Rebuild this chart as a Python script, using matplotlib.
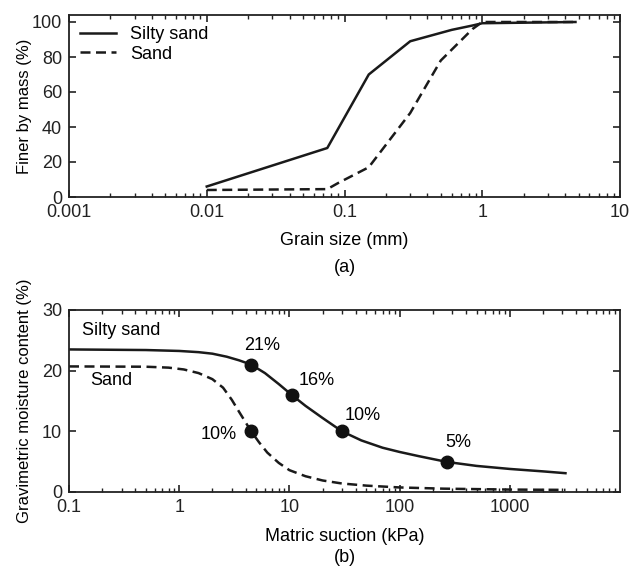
import matplotlib
matplotlib.use("Agg")
import matplotlib.pyplot as plt
from matplotlib.ticker import LogLocator, NullFormatter

plt.rcParams['font.family'] = ['Liberation Sans', 'DejaVu Sans']
FS = 13
FSY = 12

# ---- (a) grain size distribution ----
grain_silty = [0.01, 0.075, 0.15, 0.3, 0.6, 0.85, 1.0, 4.75]
finer_silty = [6, 28, 70, 89, 95.5, 98, 99.3, 100]
grain_sand = [0.01, 0.075, 0.09, 0.15, 0.3, 0.5, 0.85, 1.0, 4.75]
finer_sand = [4, 4.5, 8, 17, 48, 78, 96, 100, 100]
xticks_a = [0.001, 0.01, 0.1, 1, 10]
xticklabels_a = ['0.001', '0.01', '0.1', '1', '10']
yticks_a = [0, 20, 40, 60, 80, 100]

# ---- (b) soil water retention ----
suction_silty = [0.1, 0.5, 1, 1.5, 2, 2.7, 3.5, 4.5, 6, 8, 10.5, 14, 20, 30, 45, 70,
                 100, 150, 270, 500, 1000, 2000, 3200]
moist_silty = [23.5, 23.4, 23.25, 23.05, 22.8, 22.3, 21.7, 21.0, 19.6, 17.8, 16.0, 14.2,
               12.2, 10.0, 8.5, 7.3, 6.6, 5.9, 4.95, 4.3, 3.8, 3.4, 3.1]
suction_sand = [0.1, 0.5, 0.8, 1.1, 1.5, 2, 2.5, 3, 3.5, 4, 4.5, 5.3, 6.3, 8, 10, 14, 20,
                30, 50, 100, 250, 1000, 3200]
moist_sand = [20.7, 20.65, 20.5, 20.2, 19.6, 18.6, 17.2, 15.2, 13.2, 11.5, 10.0, 8.2, 6.5,
              4.8, 3.6, 2.6, 1.9, 1.4, 1.05, 0.75, 0.55, 0.4, 0.35]
pts_suction = [4.5, 10.5, 30, 270, 4.5]
pts_moist = [21, 16, 10, 5, 10]
pts_labels = ['21%', '16%', '10%', '5%', '10%']
xticks_b = [0.1, 1, 10, 100, 1000]
xticklabels_b = ['0.1', '1', '10', '100', '1000']
yticks_b = [0, 10, 20, 30]

fig = plt.figure(figsize=(6.31, 5.66), dpi=100)
W, H = 631, 566
def rect(l, t, r, b):
    return [l / W, 1 - b / H, (r - l) / W, (b - t) / H]

ax1 = fig.add_axes(rect(69, 15, 620, 197))
ax2 = fig.add_axes(rect(69, 310, 620, 492))

def style(ax):
    for s in ax.spines.values():
        s.set_linewidth(1.3)
        s.set_color('#222222')
    ax.tick_params(which='both', direction='in', top=True, right=True,
                   labelsize=FS, colors='#222222', pad=5)
    ax.tick_params(which='major', length=5, width=1.2)
    ax.tick_params(which='minor', length=3, width=1.0)
    ax.tick_params(axis='y', which='minor', left=False, right=False)

lc = '#1a1a1a'
DASH = (4.0, 2.2)
ax1.plot(grain_silty, finer_silty, '-', color=lc, lw=1.8, label='Silty sand')
ax1.plot(grain_sand, finer_sand, '--', color=lc, lw=1.8, dashes=DASH, label='Sand')
ax1.set_xscale('log')
ax1.set_xlim(0.001, 10)
ax1.set_ylim(0, 104)
ax1.set_xticks(xticks_a)
ax1.set_xticklabels(xticklabels_a)
ax1.xaxis.set_minor_locator(LogLocator(base=10, subs=range(2, 10)))
ax1.xaxis.set_minor_formatter(NullFormatter())
ax1.set_yticks(yticks_a)
style(ax1)
ax1.set_xlabel('Grain size (mm)', fontsize=FS, labelpad=8)
ax1.set_ylabel('Finer by mass (%)', fontsize=FSY)
ax1.yaxis.set_label_coords(-0.067, 0.5)
ax1.legend(loc='upper left', frameon=False, fontsize=FS, handlelength=2.0,
           handletextpad=0.8, labelspacing=0.15, borderaxespad=0.2)
ax1.text(0.5, -0.385, '(a)', transform=ax1.transAxes, ha='center', va='center', fontsize=FS)

ax2.plot(suction_silty, moist_silty, '-', color=lc, lw=1.8)
ax2.plot(suction_sand, moist_sand, '--', color=lc, lw=1.8, dashes=DASH)
ax2.plot(pts_suction, pts_moist, 'o', color='#111111', ms=9, zorder=5)
lab_pos = [(5.6, 24.1), (17.6, 18.4), (46, 12.6), (340, 8.2), (2.3, 9.5)]
for (x, y), t in zip(lab_pos, pts_labels):
    ax2.text(x, y, t, ha='center', va='center', fontsize=FS)
ax2.text(0.132, 26.7, 'Silty sand', ha='left', va='center', fontsize=FS)
ax2.text(0.156, 18.4, 'Sand', ha='left', va='center', fontsize=FS)
ax2.set_xscale('log')
ax2.set_xlim(0.1, 10000)
ax2.set_ylim(0, 30)
ax2.set_xticks(xticks_b)
ax2.set_xticklabels(xticklabels_b)
ax2.xaxis.set_minor_locator(LogLocator(base=10, subs=range(2, 10)))
ax2.xaxis.set_minor_formatter(NullFormatter())
ax2.set_yticks(yticks_b)
style(ax2)
ax2.set_xlabel('Matric suction (kPa)', fontsize=FS, labelpad=9)
ax2.set_ylabel('Gravimetric moisture content (%)', fontsize=FSY)
ax2.yaxis.set_label_coords(-0.067, 0.5)
ax2.text(0.5, -0.36, '(b)', transform=ax2.transAxes, ha='center', va='center', fontsize=FS)

fig.savefig('out.png', dpi=100)
